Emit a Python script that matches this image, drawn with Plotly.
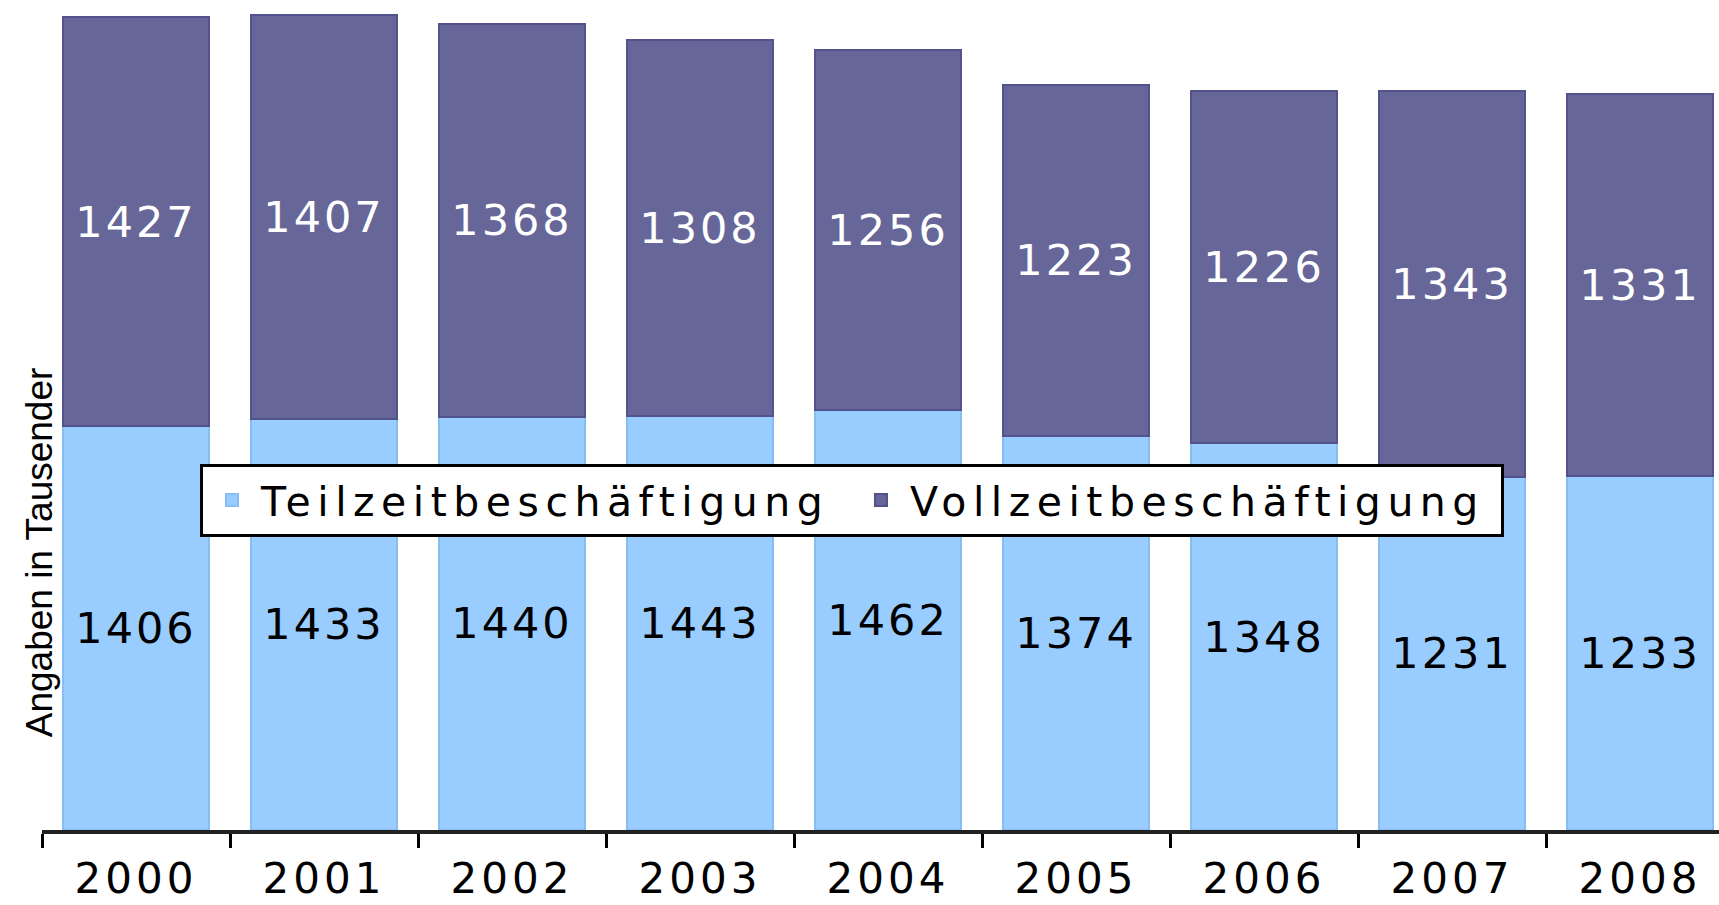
import plotly.graph_objects as go

years = ["2000", "2001", "2002", "2003", "2004", "2005", "2006", "2007", "2008"]
teilzeit = [1406, 1433, 1440, 1443, 1462, 1374, 1348, 1231, 1233]
vollzeit = [1427, 1407, 1368, 1308, 1256, 1223, 1226, 1343, 1331]

name_teil = "Teilzeitbeschäftigung"
name_voll = "Vollzeitbeschäftigung"
y_title = "Angaben in Tausender"

LIGHT = "#99CCFF"
DARK = "#666699"
FONT = "DejaVu Sans"

fig = go.Figure()
fig.add_trace(go.Bar(
    x=years, y=teilzeit, name=name_teil,
    marker=dict(color=LIGHT, line=dict(color="#86BDF5", width=2)),
    text=[str(v) for v in teilzeit], textposition="inside", insidetextanchor="middle",
    textangle=0, textfont=dict(family=FONT, size=43, color="black"),
    hoverinfo="x+y+name",
))
fig.add_trace(go.Bar(
    x=years, y=vollzeit, name=name_voll,
    marker=dict(color=DARK, line=dict(color="#52528C", width=2)),
    text=[str(v) for v in vollzeit], textposition="inside", insidetextanchor="middle",
    textangle=0, textfont=dict(family=FONT, size=43, color="white"),
    hoverinfo="x+y+name",
))

fig.update_layout(
    width=1719, height=905,
    barmode="stack", bargap=0.22,
    paper_bgcolor="white", plot_bgcolor="white",
    margin=dict(l=42, r=0, t=0, b=75, autoexpand=False),
    showlegend=True,
    legend=dict(
        orientation="h", traceorder="normal",
        x=0.0942, xanchor="left", y=0.441, yanchor="top",
        bgcolor="white", bordercolor="black", borderwidth=3,
        font=dict(family=FONT, size=41, color="black"),
        itemwidth=48,
        entrywidth=586, entrywidthmode="pixels",
    ),
    xaxis=dict(
        type="category", range=[-0.5, 8.42], automargin=False,
        showline=True, linecolor="#222222", linewidth=4,
        ticks="outside", tickson="boundaries", ticklen=14, tickwidth=3, tickcolor="black",
        tickfont=dict(family=FONT, size=42, color="black"),
        ticklabelstandoff=9,
        showgrid=False, zeroline=False,
    ),
    yaxis=dict(
        range=[0, 2892], visible=True, showticklabels=False, showgrid=False,
        zeroline=False, showline=False, ticks="", automargin=False,
    ),
    annotations=[dict(
        text=y_title, textangle=-90, xref="paper", yref="paper",
        x=-0.001, y=0.335, xanchor="center", yanchor="middle", showarrow=False,
        font=dict(family="Liberation Sans", size=37, color="black"),
    )],
)

css = ".bartext{letter-spacing:3px}.xtick text{letter-spacing:4px}.legendtext{letter-spacing:6.5px}body{margin:0}"
post = ("var s=document.createElement('style');s.textContent='" + css + "';"
        "document.head.appendChild(s);")
fig.write_html("out.html", post_script=post, config={"displayModeBar": False})
